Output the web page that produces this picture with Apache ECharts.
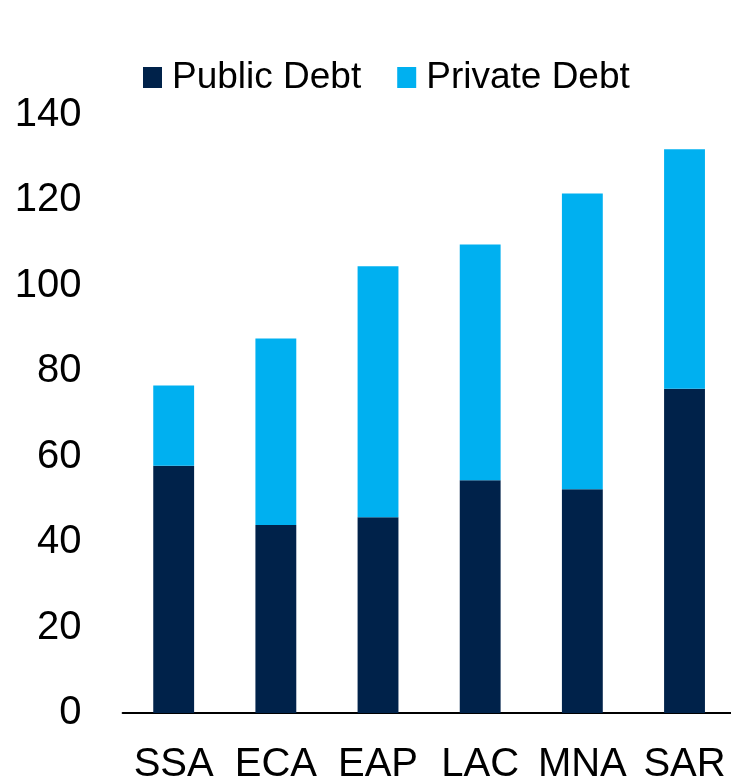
<!DOCTYPE html>
<html>
<head>
<meta charset="utf-8">
<script src="https://cdn.jsdelivr.net/npm/echarts@6/dist/echarts.min.js"></script>
<style>
  html, body { margin: 0; padding: 0; background: #ffffff; }
  #chart { width: 731px; height: 781px; }
</style>
</head>
<body>
<div id="chart"></div>
<script>
// Debt by region, percent of GDP
const regions = ['SSA', 'ECA', 'EAP', 'LAC', 'MNA', 'SAR'];
const publicDebt = [57.9, 44.0, 45.8, 54.5, 52.4, 75.9];
const privateDebt = [18.8, 43.7, 58.8, 55.2, 69.2, 56.1];
const yTicks = { min: 0, max: 140, interval: 20 };

const FONT = '"Liberation Sans", Arial, sans-serif';

const chart = echarts.init(document.getElementById('chart'), null, { renderer: 'canvas' });

chart.setOption({
  backgroundColor: '#ffffff',
  animation: false,
  textStyle: { fontFamily: FONT, color: '#000000' },
  legend: {
    left: 143,
    top: 59,
    padding: 0,
    itemWidth: 19,
    itemHeight: 21,
    itemGap: 36,
    icon: 'rect',
    textStyle: { fontFamily: FONT, fontSize: 37, color: '#000000', padding: [0, 0, 0, 5] },
    data: ['Public Debt', 'Private Debt']
  },
  grid: {
    left: 122.6,
    top: 115,
    width: 613,
    bottom: 68,
    containLabel: false,
    outerBoundsMode: 'none'
  },
  xAxis: {
    type: 'category',
    data: regions,
    axisLine: { show: true, lineStyle: { color: '#000000', width: 2 } },
    axisTick: { show: false },
    axisLabel: { fontFamily: FONT, fontSize: 40, color: '#000000', margin: 32, interval: 0 },
    splitLine: { show: false }
  },
  yAxis: {
    type: 'value',
    min: yTicks.min,
    max: yTicks.max,
    interval: yTicks.interval,
    axisLine: { show: false },
    axisTick: { show: false },
    splitLine: { show: false },
    axisLabel: { fontFamily: FONT, fontSize: 40, color: '#000000', margin: 41 }
  },
  series: [
    {
      name: 'Public Debt',
      type: 'bar',
      stack: 'debt',
      data: publicDebt,
      barCategoryGap: '60%',
      itemStyle: { color: '#00224A' }
    },
    {
      name: 'Private Debt',
      type: 'bar',
      stack: 'debt',
      data: privateDebt,
      barCategoryGap: '60%',
      itemStyle: { color: '#00B0F0' }
    }
  ]
});
</script>
</body>
</html>
